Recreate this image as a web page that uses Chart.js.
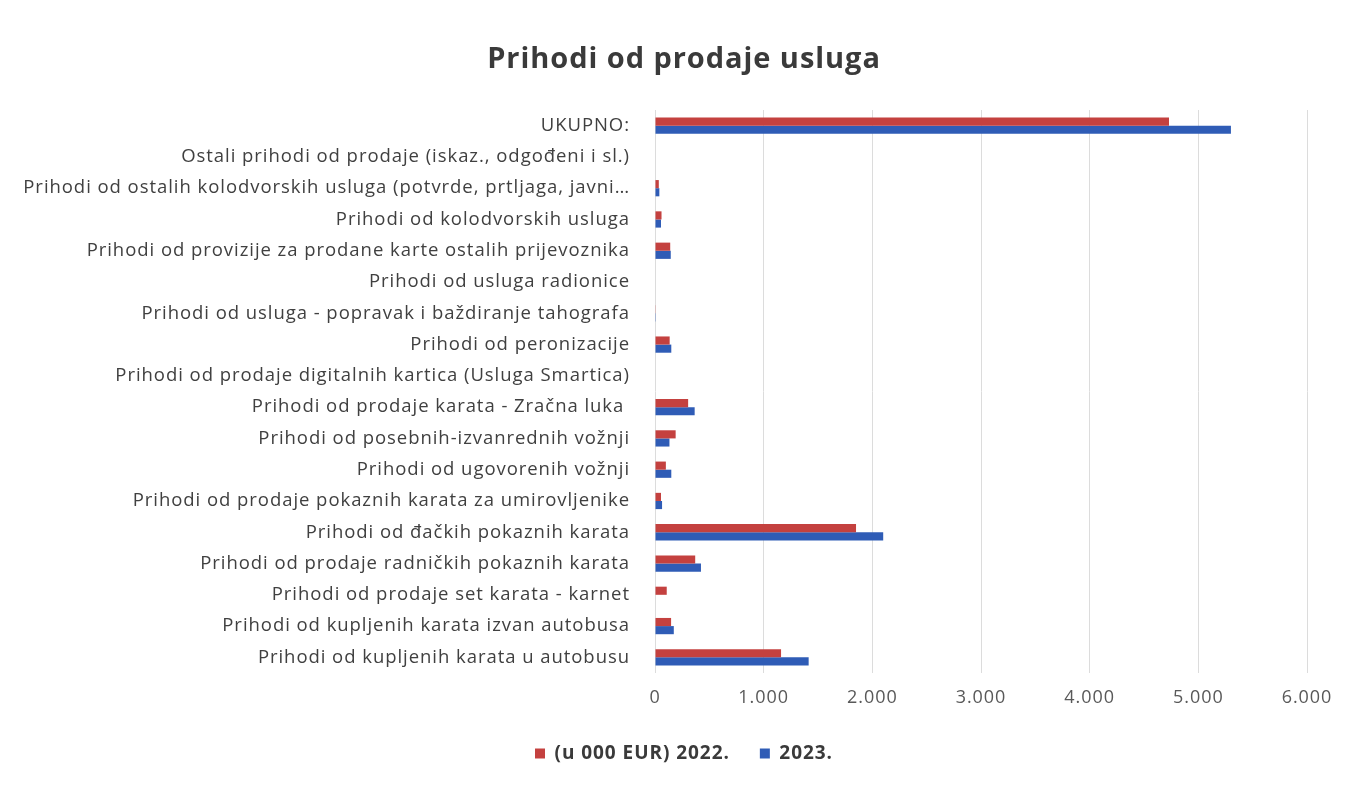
<!DOCTYPE html>
<html>
<head>
<meta charset="utf-8">
<script src="https://cdn.jsdelivr.net/npm/chart.js@4.4.1/dist/chart.umd.min.js"></script>
<style>
  html, body { margin: 0; padding: 0; background: #ffffff; }
  #wrap { width: 1368px; height: 790px; position: relative; }
</style>
</head>
<body>
<div id="wrap"><canvas id="c" width="1368" height="790"></canvas></div>
<script>
const categories = [
  "UKUPNO:",
  "Ostali prihodi od prodaje (iskaz., odgođeni i sl.)",
  "Prihodi od ostalih kolodvorskih usluga (potvrde, prtljaga, javni…",
  "Prihodi od kolodvorskih usluga",
  "Prihodi od provizije za prodane karte ostalih prijevoznika",
  "Prihodi od usluga radionice",
  "Prihodi od usluga - popravak i baždiranje tahografa",
  "Prihodi od peronizacije",
  "Prihodi od prodaje digitalnih kartica (Usluga Smartica)",
  "Prihodi od prodaje karata - Zračna luka ",
  "Prihodi od posebnih-izvanrednih vožnji",
  "Prihodi od ugovorenih vožnji",
  "Prihodi od prodaje pokaznih karata za umirovljenike",
  "Prihodi od đačkih pokaznih karata",
  "Prihodi od prodaje radničkih pokaznih karata",
  "Prihodi od prodaje set karata - karnet",
  "Prihodi od kupljenih karata izvan autobusa",
  "Prihodi od kupljenih karata u autobusu"
];
const values2022 = [4730, 0, 35, 60, 140, 0, 3, 135, 0, 305, 190, 100, 55, 1850, 370, 108, 148, 1160];
const values2023 = [5300, 0, 40, 55, 145, 0, 2, 150, 0, 365, 133, 150, 65, 2100, 423, 0, 173, 1414];
const xTicks = [0, 1000, 2000, 3000, 4000, 5000, 6000];
const seriesNames = ["(u 000 EUR) 2022.", "2023."];

const FONT = "'Open Sans', Lato, sans-serif";

const spacingPlugin = {
  id: 'spacing',
  beforeLayout(chart) { chart.ctx.letterSpacing = '0.95px'; },
  beforeDraw(chart) { chart.ctx.letterSpacing = '0.95px'; }
};

new Chart(document.getElementById('c'), {
  type: 'bar',
  data: {
    labels: categories,
    datasets: [
      { label: seriesNames[0], data: values2022, backgroundColor: '#C4413F', borderWidth: 0,
        categoryPercentage: 0.52, barPercentage: 1.0, yAxisID: 'y' },
      { label: seriesNames[1], data: values2023, backgroundColor: '#2F5CB6', borderWidth: 0,
        categoryPercentage: 0.52, barPercentage: 1.0, yAxisID: 'y' }
    ]
  },
  plugins: [spacingPlugin],
  options: {
    indexAxis: 'y',
    responsive: false,
    animation: false,
    devicePixelRatio: 1,
    layout: { padding: { left: 20, right: 20, top: 0, bottom: 17 } },
    plugins: {
      title: {
        display: true,
        text: 'Prihodi od prodaje usluga',
        color: '#3a3a3a',
        font: { family: FONT, size: 29, weight: 'bold' },
        padding: { top: 42, bottom: 33.2 }
      },
      legend: {
        display: true,
        position: 'bottom',
        labels: {
          color: '#3a3a3a',
          font: { family: FONT, size: 19, weight: 'bold' },
          boxWidth: 10, boxHeight: 10,
          padding: 30
        }
      },
      tooltip: { enabled: false }
    },
    scales: {
      x: {
        min: 0, max: 6000,
        afterBuildTicks: (scale) => { scale.ticks = xTicks.map(v => ({ value: v })); },
        ticks: {
          color: '#595959',
          font: { family: FONT, size: 18 },
          padding: 14,
          callback: (v) => v === 0 ? '0' : v.toLocaleString('de-DE')
        },
        grid: { color: '#dcdcdc', drawTicks: false, lineWidth: 1 },
        border: { display: false },
        afterFit: (scale) => { scale.height = 41; }
      },
      y: {
        position: 'left',
        ticks: {
          color: '#404040',
          font: { family: FONT, size: 18.5 },
          padding: 17,
          autoSkip: false
        },
        grid: { display: false },
        border: { display: false },
        afterFit: (scale) => { scale.width = 635; }
      },
      yRight: {
        type: 'category',
        axis: 'y',
        position: 'right',
        ticks: { display: false },
        grid: { display: false },
        border: { display: false },
        afterFit: (scale) => { scale.width = 41; }
      }
    }
  }
});
</script>
</body>
</html>
